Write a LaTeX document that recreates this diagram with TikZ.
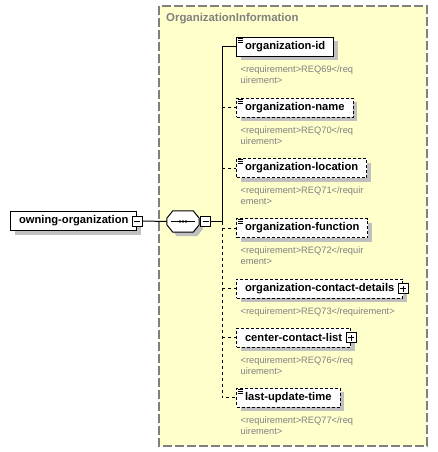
\documentclass[tikz,border=0pt]{standalone}
\usepackage{fontspec}
\setmainfont{Liberation Sans}
\usepackage{tikz}
\usetikzlibrary{positioning,shadows}
\definecolor{grpbg}{HTML}{FFFFCC}
\definecolor{grpln}{HTML}{808080}
\definecolor{shdc}{HTML}{C0C0C0}
\definecolor{notec}{HTML}{808080}
\tikzset{
  elem/.style={rectangle,draw=black,line width=1pt,fill=white,minimum height=19pt,inner xsep=8.5pt,inner ysep=0pt,anchor=west,
    font=\fontsize{11.2}{13}\selectfont\bfseries,drop shadow={shadow xshift=4pt,shadow yshift=-4pt,fill=shdc,opacity=1}},
  opt/.style={elem,dash pattern=on 3pt off 2pt},
  note/.style={inner sep=0pt,align=left,font=\fontsize{9.3}{11}\selectfont,text=notec},
  sgn/.style={rectangle,draw=black,line width=1pt,fill=white,minimum size=10pt,inner sep=0pt},
  conn/.style={line width=1pt},
  oconn/.style={conn,dash pattern=on 3pt off 3pt}
}
\newcommand{\minussign}[1]{\draw[line width=1pt] ([xshift=2.5pt]#1.west) -- ([xshift=-2.5pt]#1.east);}
\newcommand{\plussign}[1]{\minussign{#1}\draw[line width=1pt] ([yshift=2.5pt]#1.south) -- ([yshift=-2.5pt]#1.north);}
\newcommand{\simpicon}[1]{\foreach \k in {0,2,4}{\draw[line width=0.8pt] ([xshift=1.5pt,yshift={-(1.5+\k)*1pt}]#1.north west) -- ++(5,0);}}

\begin{document}
\begin{tikzpicture}[x=1pt,y=-1pt]
\useasboundingbox (0,0) rectangle (437,452);
% complex type group
\draw[grpln,fill=grpbg,line width=1.5pt,dash pattern=on 9pt off 3pt] (159,6) rectangle (427,446);
\node[anchor=west,inner sep=0pt,text=grpln,font=\fontsize{11.4}{13}\selectfont\bfseries] (grptitle) at (166,19) {OrganizationInformation};
% parent element
\node[elem] (owner) at (10,221) {owning-organization\hspace{5pt}};
\node[sgn] (ownerm) at (owner.east) {};
\minussign{ownerm}
% sequence compositor
\node[inner sep=0pt,minimum width=32pt,minimum height=21pt] (seq) at (183,221.5) {};
\draw[line width=1pt,fill=white,drop shadow={shadow xshift=4pt,shadow yshift=-4pt,fill=shdc,opacity=1}]
  ([xshift=6pt]seq.north west) -- ([xshift=-6pt]seq.north east) -- ([yshift=-7.5pt]seq.north east)
  -- ([yshift=7.5pt]seq.south east) -- ([xshift=-6pt]seq.south east) -- ([xshift=6pt]seq.south west)
  -- ([yshift=7.5pt]seq.south west) -- ([yshift=-7.5pt]seq.north west) -- cycle;
\draw[line width=1pt] ([xshift=4pt]seq.west) -- ([xshift=-4pt]seq.east);
\foreach \dx in {-3,0,3}{\fill ([xshift=\dx pt]seq.center) circle (1.3pt);}
\node[sgn,anchor=west] (seqm) at ([xshift=1pt]seq.east) {};
\minussign{seqm}
\coordinate (jn) at ([xshift=11pt]seqm.east);
\draw[conn] (ownerm.east) -- (seq.west);
% child elements
\node[elem] (orgid) at (236,47) {organization-id};
\node[opt] (orgname) at (236,107.5) {organization-name};
\node[opt] (orgloc) at (236,168) {organization-location};
\node[opt] (orgfunc) at (236,228) {organization-function};
\node[opt] (orgcont) at (236,288.5) {organization-contact-details\hspace{5pt}};
\node[opt] (ctrlist) at (236,337.5) {center-contact-list\hspace{5pt}};
\node[opt] (lastupd) at (236,397.5) {last-update-time};
\node[sgn] (orgcontp) at (orgcont.east) {};
\plussign{orgcontp}
\node[sgn] (ctrlistp) at (ctrlist.east) {};
\plussign{ctrlistp}
\foreach \n in {orgid,orgname,orgloc,orgfunc,lastupd}{\simpicon{\n}}
% annotations
\node[note,below right=9pt and 4.5pt of orgid.south west] (orgidnote) {<requirement>REQ69</req\\uirement>};
\node[note,below right=9pt and 4.5pt of orgname.south west] (orgnamenote) {<requirement>REQ70</req\\uirement>};
\node[note,below right=9pt and 4.5pt of orgloc.south west] (orglocnote) {<requirement>REQ71</requir\\ement>};
\node[note,below right=9pt and 4.5pt of orgfunc.south west] (orgfuncnote) {<requirement>REQ72</requir\\ement>};
\node[note,below right=9pt and 4.5pt of orgcont.south west] (orgcontnote) {<requirement>REQ73</requirement>};
\node[note,below right=9pt and 4.5pt of ctrlist.south west] (ctrlistnote) {<requirement>REQ76</req\\uirement>};
\node[note,below right=9pt and 4.5pt of lastupd.south west] (lastupdnote) {<requirement>REQ77</req\\uirement>};
% connectors
\draw[conn] (seqm.east) -- (jn) |- (orgid.west);
\draw[oconn] (jn) |- (lastupd.west);
\foreach \n in {orgname,orgloc,orgfunc,orgcont,ctrlist}{\draw[oconn] (jn |- \n.west) -- (\n.west);}
\end{tikzpicture}
\end{document}
